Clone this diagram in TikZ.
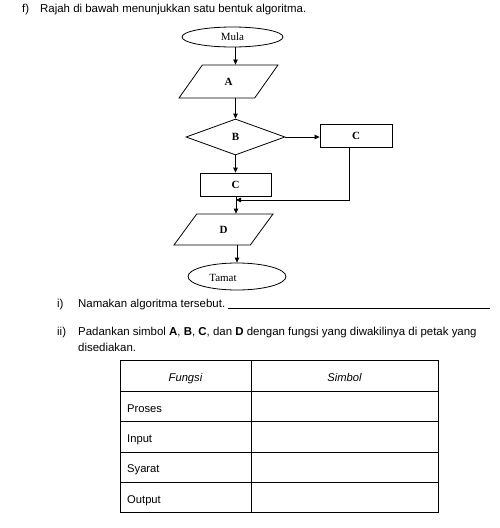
\documentclass[tikz,border=0pt]{standalone}
\usepackage{fontspec}
\setmainfont{Liberation Serif}
\setsansfont{Liberation Sans}
\usetikzlibrary{shapes.geometric,arrows.meta}
\begin{document}
\begin{tikzpicture}[x=1pt,y=-1pt,
  txt/.style={font=\sffamily\fontsize{11.45}{13}\selectfont, inner sep=0pt, anchor=base west},
  fcfont/.style={font=\rmfamily\fontsize{11}{13}\selectfont},
  fc/.style={draw, line width=0.8pt, fcfont, inner sep=0pt},
  para/.style={fc, trapezium, trapezium stretches=true},
  arr/.style={line width=0.8pt, -{Triangle[length=5pt,width=4.5pt]}},
  tline/.style={line width=0.9pt},
  ttxt/.style={font=\sffamily\fontsize{11.2}{13}\selectfont, inner sep=0pt, anchor=base west}
]
\useasboundingbox (0,0) rectangle (499,528);

% heading
\node[txt] (f) at (22,12.5) {f)};
\node[txt] (t1) at (40,12.5) {Rajah di bawah menunjukkan satu bentuk algoritma.};

% flowchart
\node[fc, ellipse, minimum width=101, minimum height=20] (mula) at (232.5,37) {Mula};
\node[para, trapezium left angle=64, trapezium right angle=116, minimum width=99, minimum height=33] (A) at (228.5,81.5) {\textbf{A}};
\node[fc, diamond, minimum width=99, minimum height=36] (dia) at (235.5,137) {\textbf{B}};
\node[fc, rectangle, minimum width=72, minimum height=23] (Cr) at (356,135.5) {\textbf{C}};
\node[fc, rectangle, minimum width=71, minimum height=23] (C2) at (235.5,184.5) {\textbf{C}};
\node[para, trapezium left angle=65, trapezium right angle=115, minimum width=99, minimum height=31] (D) at (223.5,229.5) {\textbf{D}};
\node[fc, ellipse, minimum width=98, minimum height=27,
      label={[fcfont, inner sep=0pt, xshift=-14pt, yshift=-1pt]center:Tamat}] (tamat) at (237,276.5) {};
\coordinate (join) at (236,200);

\draw[arr] (mula.south -| dia.north) -- (A.north -| dia.north);
\draw[arr] (A.south -| dia.north) -- (dia.north);
\draw[arr] (dia.east) -- (Cr.west |- dia.east);
\draw[arr] (dia.south) -- (C2.north -| dia.south);
\draw[arr] ([xshift=-7pt]Cr.south) |- (join);
\draw[arr] (C2.south -| join) -- (D.north -| join);
\draw[arr] (D.south -| tamat.north) -- (tamat.north);

% questions
\node[txt] (q1n) at (57,307.5) {i)};
\node[txt] (q1) at (78,307.5) {Namakan algoritma tersebut.};
\draw[line width=0.8pt] (228,308) -- (490,308);
\node[txt] (q2n) at (57,335) {ii)};
\node[txt] (q2) at (78,335) {Padankan simbol \textbf{A}, \textbf{B}, \textbf{C}, dan \textbf{D} dengan fungsi yang diwakilinya di petak yang};
\node[txt] (q2b) at (78,351) {disediakan.};

% table
\draw[tline] (120,360) rectangle (438,512);
\draw[tline] (251,360) -- (251,512);
\foreach \yy in {391,421,452,482} \draw[tline] (120,\yy) -- (438,\yy);
\node[ttxt, anchor=base, font=\sffamily\itshape\fontsize{11.2}{13}\selectfont] (h1) at (185.5,381) {Fungsi};
\node[ttxt, anchor=base, font=\sffamily\itshape\fontsize{11.2}{13}\selectfont] (h2) at (344.5,381) {Simbol};
\node[ttxt] (r1) at (127,412) {Proses};
\node[ttxt] (r2) at (127,442) {Input};
\node[ttxt] (r3) at (127,472.5) {Syarat};
\node[ttxt] (r4) at (127,503) {Output};
\end{tikzpicture}
\end{document}
